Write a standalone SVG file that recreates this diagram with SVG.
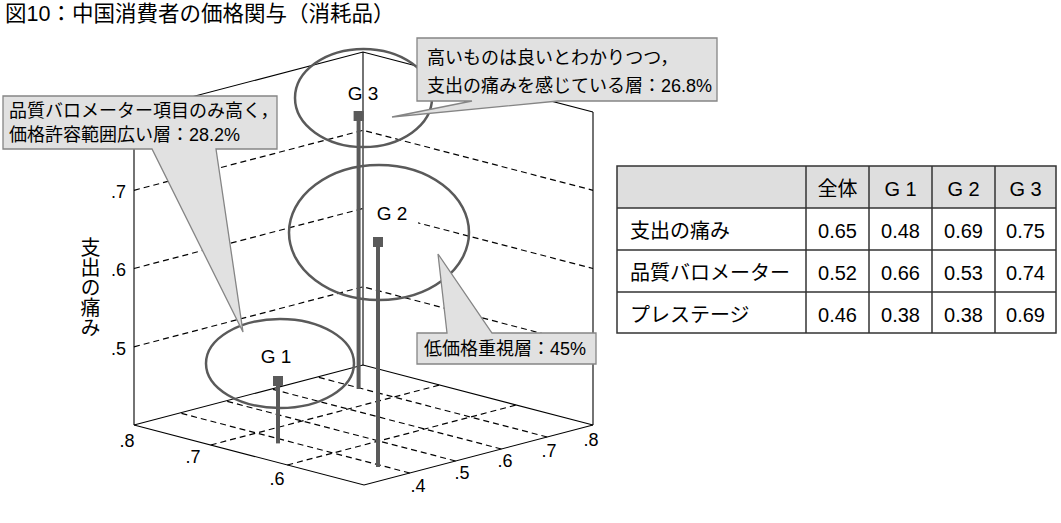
<svg xmlns="http://www.w3.org/2000/svg" width="1061" height="523" viewBox="0 0 1061 523">
<style>
text{font-family:"Liberation Sans","Noto Sans CJK JP",sans-serif;fill:#000}
.title{font-size:21.5px}
.tick{font-size:18px}
.glab{font-size:19px;text-anchor:middle}
.call{font-size:18px}
.tbl{font-size:20px}
.c{text-anchor:middle}
.edge{fill:none;stroke:#000;stroke-width:1.1}
.grid{fill:none;stroke:#000;stroke-width:1.2;stroke-dasharray:6 4}
.ell{fill:none;stroke:#5a5a5a;stroke-width:2.5}
.stem{stroke:#5a5a5a;stroke-width:4}
.mk{fill:#5a5a5a}
.callout{fill:#e1e1e1;stroke:#858585;stroke-width:1.3}
.cell{fill:none;stroke:#333;stroke-width:1.5}
</style>
<rect width="1061" height="523" fill="#fff"/>
<text class="title" x="5" y="21">図10：中国消費者の価格関与（消耗品）</text>

<g id="axes">
  <polyline class="edge" points="134,425 364,485 593,425"/>
  <polyline class="edge" points="134,425 363,365 593,425"/>
  <line class="edge" x1="134" y1="112" x2="134" y2="425"/>
  <line class="edge" x1="363" y1="52" x2="363" y2="365"/>
  <line class="edge" x1="593" y1="112" x2="593" y2="425"/>
  <polyline class="edge" points="134,112 363,52 593,112"/>
  <polyline class="grid" points="134,346.8 363,286.8 593,346.8"/>
  <polyline class="grid" points="134,268.5 363,208.5 593,268.5"/>
  <polyline class="grid" points="134,190.3 363,130.3 593,190.3"/>
  <line class="grid" x1="287.3" y1="465" x2="516.3" y2="405"/>
  <line class="grid" x1="210.7" y1="445" x2="439.7" y2="385"/>
  <line class="grid" x1="409.8" y1="473" x2="179.8" y2="413"/>
  <line class="grid" x1="455.6" y1="461" x2="225.6" y2="401"/>
  <line class="grid" x1="501.4" y1="449" x2="271.4" y2="389"/>
  <line class="grid" x1="547.2" y1="437" x2="317.2" y2="377"/>
  <text class="tick" x="126" y="198" text-anchor="end">.7</text>
  <text class="tick" x="126" y="276" text-anchor="end">.6</text>
  <text class="tick" x="126" y="355" text-anchor="end">.5</text>
  <text class="tick c" x="127" y="447">.8</text>
  <text class="tick c" x="193" y="463">.7</text>
  <text class="tick c" x="277" y="485">.6</text>
  <text class="tick c" x="418" y="492">.4</text>
  <text class="tick c" x="462" y="479">.5</text>
  <text class="tick c" x="505" y="467">.6</text>
  <text class="tick c" x="549" y="457">.7</text>
  <text class="tick c" x="591" y="446">.8</text>
  <text x="89" y="237" font-size="20" style="writing-mode:vertical-rl">支出の痛み</text>
</g>

<g id="g1">
  <ellipse class="ell" cx="280" cy="363.5" rx="74" ry="44.5"/>
  <line class="stem" x1="278" y1="381" x2="278" y2="443.4"/>
  <rect class="mk" x="273" y="376" width="10" height="10"/>
  <text class="glab" x="276" y="363">G 1</text>
</g>
<g id="g2">
  <ellipse class="ell" cx="379" cy="232.5" rx="90" ry="67.5"/>
  <rect x="366" y="201" width="52" height="24" fill="#fff"/>
  <line class="stem" x1="378" y1="242" x2="378" y2="467"/>
  <rect class="mk" x="373" y="237" width="10" height="10"/>
  <text class="glab" x="392" y="220">G 2</text>
</g>
<g id="g3">
  <ellipse class="ell" cx="363.5" cy="98" rx="68.5" ry="49"/>
  <line class="stem" x1="358.6" y1="116" x2="358.6" y2="389"/>
  <rect class="mk" x="353.6" y="111" width="10" height="10"/>
  <text class="glab" x="363" y="100">G 3</text>
</g>

<g id="callout-g1">
  <path class="callout" d="M3,96 H277 V149 H216 L243,332 L152,149 H3 Z"/>
  <text class="call" x="9" y="117">品質バロメーター項目のみ高く，</text>
  <text class="call" x="9" y="141">価格許容範囲広い層：28.2%</text>
</g>
<g id="callout-g3">
  <path class="callout" d="M417,38 H717 V101 H558 L392,117 L472,101 H417 Z"/>
  <text class="call" x="427" y="64">高いものは良いとわかりつつ，</text>
  <text class="call" x="427" y="92">支出の痛みを感じている層：26.8%</text>
</g>
<g id="callout-g2">
  <path class="callout" d="M417,333 H447 L438,254 L492,333 H596 V364 H417 Z"/>
  <text class="call" x="424" y="355">低価格重視層：45%</text>
</g>

<g id="table">
  <rect x="617" y="166" width="439" height="42" fill="#dedede"/>
  <rect class="cell" x="617" y="166" width="439" height="167"/>
  <line class="cell" x1="617" y1="208" x2="1056" y2="208"/>
  <line class="cell" x1="617" y1="250" x2="1056" y2="250"/>
  <line class="cell" x1="617" y1="292" x2="1056" y2="292"/>
  <line class="cell" x1="806" y1="166" x2="806" y2="333"/>
  <line class="cell" x1="869" y1="166" x2="869" y2="333"/>
  <line class="cell" x1="932" y1="166" x2="932" y2="333"/>
  <line class="cell" x1="995" y1="166" x2="995" y2="333"/>
  <text class="tbl c" x="837.5" y="196">全体</text>
  <text class="tbl c" x="900.5" y="196">G 1</text>
  <text class="tbl c" x="963.5" y="196">G 2</text>
  <text class="tbl c" x="1025.5" y="196">G 3</text>
  <text class="tbl" x="630" y="238">支出の痛み</text>
  <text class="tbl" x="630" y="280">品質バロメーター</text>
  <text class="tbl" x="630" y="322">プレステージ</text>
  <text class="tbl c" x="837.5" y="238">0.65</text>
  <text class="tbl c" x="900.5" y="238">0.48</text>
  <text class="tbl c" x="963.5" y="238">0.69</text>
  <text class="tbl c" x="1025.5" y="238">0.75</text>
  <text class="tbl c" x="837.5" y="280">0.52</text>
  <text class="tbl c" x="900.5" y="280">0.66</text>
  <text class="tbl c" x="963.5" y="280">0.53</text>
  <text class="tbl c" x="1025.5" y="280">0.74</text>
  <text class="tbl c" x="837.5" y="322">0.46</text>
  <text class="tbl c" x="900.5" y="322">0.38</text>
  <text class="tbl c" x="963.5" y="322">0.38</text>
  <text class="tbl c" x="1025.5" y="322">0.69</text>
</g>
</svg>
